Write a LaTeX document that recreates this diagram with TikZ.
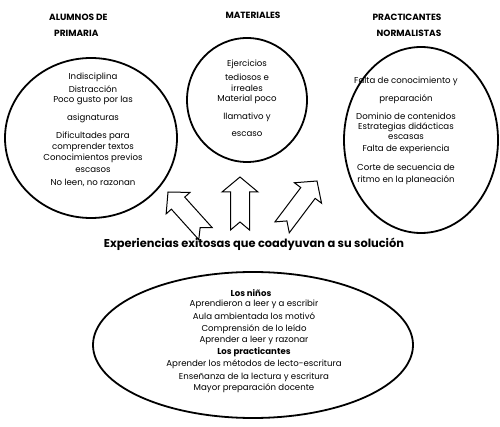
\documentclass[tikz,border=0pt]{standalone}
\usepackage{fontspec}
\setmainfont{Poppins}
\begin{document}
\begin{tikzpicture}[x=1pt,y=-1pt,
  bubble/.style={draw=black,line width=1.8pt},
  blockarrow/.style={draw=black,line width=1pt,fill=white,line join=miter},
  txt/.style={inner sep=0pt,font=\fontsize{8.6}{9}\selectfont},
  hdr/.style={inner sep=0pt,font=\fontsize{9}{10}\selectfont\bfseries},
  sub/.style={inner sep=0pt,font=\fontsize{8.6}{9}\selectfont\bfseries}]
\useasboundingbox (0,0) rectangle (500,427);
% bubbles
\draw[bubble] (91,138) ellipse [x radius=86, y radius=80];
\draw[bubble] (247,100) ellipse [x radius=60, y radius=62];
\draw[bubble] (421,140) ellipse [x radius=77, y radius=93];
\draw[bubble] (253,345) ellipse [x radius=160, y radius=73];
% headers
\node[hdr,anchor=west] (h1) at (49,17) {ALUMNOS DE};
\node[hdr,anchor=west] (h1b) at (54,33) {PRIMARIA};
\node[hdr] (h2) at (253,15) {MATERIALES};
\node[hdr] (h3) at (407,17) {PRACTICANTES};
\node[hdr] (h3b) at (409,33) {NORMALISTAS};
% left
\node[txt] (l1) at (93,77) {Indisciplina};
\node[txt] (l2) at (93,89) {Distracción};
\node[txt] (l3) at (93,100) {Poco gusto por las};
\node[txt] (l4) at (93,118) {asignaturas};
\node[txt] (l5) at (93,136) {Dificultades para};
\node[txt] (l6) at (93,147) {comprender textos};
\node[txt] (l7) at (93,158) {Conocimientos previos};
\node[txt] (l8) at (93,170) {escasos};
\node[txt] (l9) at (93,183) {No leen, no razonan};
% middle
\node[txt] (m1) at (247,64) {Ejercicios};
\node[txt] (m2) at (247,77) {tediosos e};
\node[txt] (m3) at (247,88) {irreales};
\node[txt] (m4) at (247,99) {Material poco};
\node[txt] (m5) at (247,117) {llamativo y};
\node[txt] (m6) at (247,134) {escaso};
% right
\node[txt] (r1) at (406,81) {Falta de conocimiento y};
\node[txt] (r2) at (406,99) {preparación};
\node[txt] (r3) at (406,116) {Dominio de contenidos};
\node[txt] (r4) at (406,127) {Estrategias didácticas};
\node[txt] (r5) at (406,137) {escasas};
\node[txt] (r6) at (406,149) {Falta de experiencia};
\node[txt] (r7) at (406,167) {Corte de secuencia de};
\node[txt] (r8) at (406,180) {ritmo en la planeación};
% arrows
\begin{scope}[shift={(168,192)},rotate=42]
\draw[blockarrow] (0,0) -- (16,15) -- (9,15) -- (9,56) -- (0,48) -- (-9,56) -- (-9,15) -- (-16,15) -- cycle;
\end{scope}
\begin{scope}[shift={(240,177)}]
\draw[blockarrow] (0,0) -- (18,15) -- (9.5,15) -- (9.5,53) -- (0,45) -- (-9.5,53) -- (-9.5,15) -- (-18,15) -- cycle;
\end{scope}
\begin{scope}[shift={(317,181)},rotate=-37]
\draw[blockarrow] (0,0) -- (17,15) -- (9,15) -- (9,58) -- (0,50) -- (-9,58) -- (-9,15) -- (-17,15) -- cycle;
\end{scope}
% heading
\node[inner sep=0pt,font=\fontsize{11.4}{13}\selectfont\bfseries] (head) at (254,244) {Experiencias exitosas que coadyuvan a su solución};
% bottom
\node[sub] (b1) at (251,293) {Los niños};
\node[txt] (b2) at (254,304) {Aprendieron a leer y a escribir};
\node[txt] (b3) at (254,316) {Aula ambientada los motivó};
\node[txt] (b4) at (254,329) {Comprensión de lo leído};
\node[txt] (b5) at (254,340) {Aprender a leer y razonar};
\node[sub] (b6) at (254,352) {Los practicantes};
\node[txt] (b7) at (254,364) {Aprender los métodos de lecto-escritura};
\node[txt] (b8) at (254,377) {Enseñanza de la lectura y escritura};
\node[txt] (b9) at (254,388) {Mayor preparación docente};
\end{tikzpicture}
\end{document}
